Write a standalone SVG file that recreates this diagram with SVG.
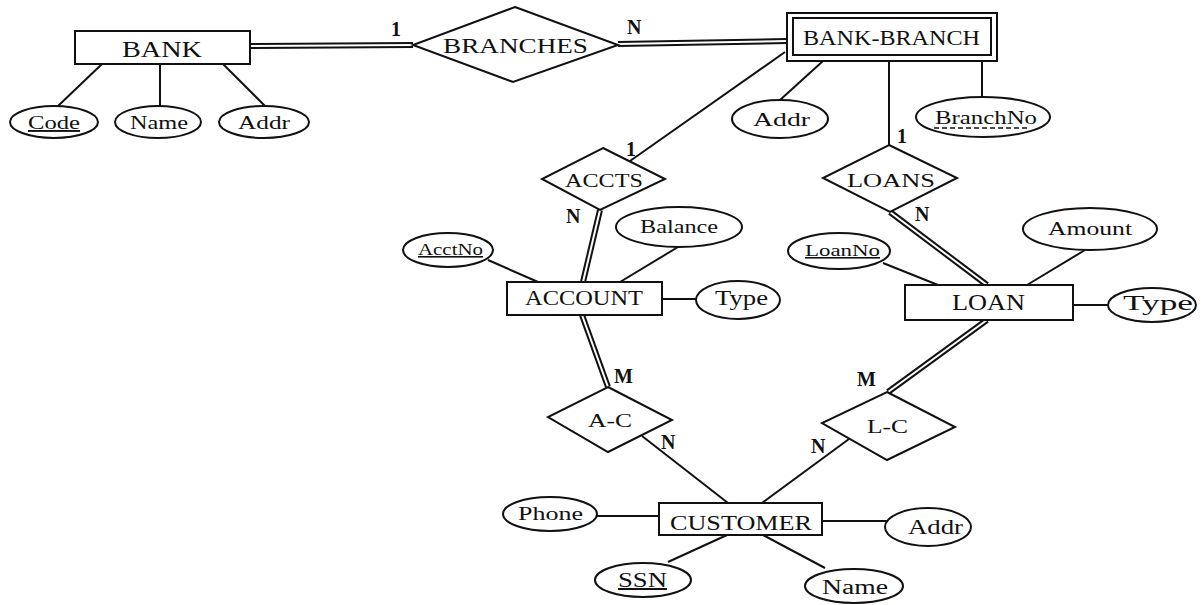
<svg xmlns="http://www.w3.org/2000/svg" width="1201" height="605" viewBox="0 0 1201 605">
<style>
text{font-family:"Liberation Serif","Times New Roman",serif;fill:#111;}
.ent{font-size:23px;}
.rel{font-size:21px;}
.att{font-size:19px;}
.card{font-size:20px;font-weight:bold;}
.shape{fill:#fff;stroke:#111;stroke-width:2;}
.ln{stroke:#111;stroke-width:2;fill:none;}
.dbo{stroke:#111;stroke-width:6;fill:none;}
.dbi{stroke:#fff;stroke-width:2;fill:none;}
</style>
<rect width="1201" height="605" fill="#fff"/>
<g id="connectors">
  <line class="dbo" x1="250" y1="46" x2="413" y2="45"/><line class="dbi" x1="250" y1="46" x2="413" y2="45"/>
  <line class="dbo" x1="618" y1="44" x2="787" y2="41"/><line class="dbi" x1="618" y1="44" x2="787" y2="41"/>
  <line class="ln" x1="102" y1="64" x2="58" y2="106"/>
  <line class="ln" x1="160" y1="64" x2="160" y2="106"/>
  <line class="ln" x1="223" y1="64" x2="265" y2="106"/>
  <line class="ln" x1="785" y1="52" x2="630" y2="161"/>
  <line class="ln" x1="823" y1="61" x2="780" y2="100"/>
  <line class="ln" x1="889" y1="61" x2="889" y2="145"/>
  <line class="ln" x1="982" y1="61" x2="982" y2="97"/>
  <line class="dbo" x1="600" y1="210" x2="583" y2="282"/><line class="dbi" x1="600" y1="210" x2="583" y2="282"/>
  <line class="ln" x1="488" y1="260" x2="538" y2="282"/>
  <line class="ln" x1="678" y1="247" x2="620" y2="282"/>
  <line class="ln" x1="662" y1="299" x2="697" y2="299"/>
  <line class="dbo" x1="582" y1="315" x2="608" y2="387"/><line class="dbi" x1="582" y1="315" x2="608" y2="387"/>
  <line class="dbo" x1="890" y1="212" x2="987" y2="285"/><line class="dbi" x1="890" y1="212" x2="987" y2="285"/>
  <line class="ln" x1="883" y1="263" x2="938" y2="285"/>
  <line class="ln" x1="1085" y1="250" x2="1027" y2="285"/>
  <line class="ln" x1="1073" y1="305" x2="1108" y2="305"/>
  <line class="dbo" x1="987" y1="320" x2="888" y2="392"/><line class="dbi" x1="987" y1="320" x2="888" y2="392"/>
  <line class="ln" x1="642" y1="436" x2="728" y2="503"/>
  <line class="ln" x1="849" y1="439" x2="762" y2="503"/>
  <line class="ln" x1="597" y1="516" x2="659" y2="516"/>
  <line class="ln" x1="822" y1="521" x2="887" y2="521"/>
  <line class="ln" x1="668" y1="562" x2="727" y2="535"/>
  <line class="ln" x1="825" y1="568" x2="763" y2="535"/>
  <text class="card" x="391" y="36">1</text>
  <text class="card" x="627" y="34">N</text>
  <text class="card" x="626" y="156">1</text>
  <text class="card" x="897" y="143">1</text>
  <text class="card" x="566" y="223">N</text>
  <text class="card" x="915" y="221">N</text>
  <text class="card" x="614" y="383">M</text>
  <text class="card" x="661" y="449">N</text>
  <text class="card" x="857" y="386">M</text>
  <text class="card" x="811" y="453">N</text>
</g>
<g id="bank">
  <rect class="shape" x="75" y="31" width="175" height="33"/>
  <text class="ent" x="122" y="57" textLength="80" lengthAdjust="spacingAndGlyphs">BANK</text>
</g>
<g id="bank-code">
  <ellipse class="shape" cx="54" cy="122" rx="44" ry="16"/>
  <text class="att" x="28" y="129" textLength="52" lengthAdjust="spacingAndGlyphs" text-decoration="underline">Code</text>
</g>
<g id="bank-name">
  <ellipse class="shape" cx="158" cy="122" rx="43" ry="16"/>
  <text class="att" x="130" y="129" textLength="58" lengthAdjust="spacingAndGlyphs">Name</text>
</g>
<g id="bank-addr">
  <ellipse class="shape" cx="264" cy="122" rx="45" ry="16"/>
  <text class="att" x="238" y="129" textLength="52" lengthAdjust="spacingAndGlyphs">Addr</text>
</g>
<g id="branches">
  <polygon class="shape" points="515,7 618,45 513,82 413,45"/>
  <text class="rel" x="443" y="53" textLength="145" lengthAdjust="spacingAndGlyphs">BRANCHES</text>
</g>
<g id="bank-branch">
  <rect class="shape" x="787" y="13" width="210" height="48"/>
  <rect class="shape" x="793" y="18" width="198" height="37"/>
  <text class="ent" x="803" y="45" textLength="177" lengthAdjust="spacingAndGlyphs" style="font-size:21px">BANK-BRANCH</text>
</g>
<g id="bb-addr">
  <ellipse class="shape" cx="780" cy="119" rx="48" ry="19"/>
  <text class="att" x="753" y="126" textLength="57" lengthAdjust="spacingAndGlyphs">Addr</text>
</g>
<g id="bb-branchno">
  <ellipse class="shape" cx="983" cy="117" rx="67" ry="20"/>
  <text class="att" x="935" y="124" textLength="102" lengthAdjust="spacingAndGlyphs">BranchNo</text>
  <line x1="934" y1="128" x2="1030" y2="128" stroke="#111" stroke-width="1.3" stroke-dasharray="5,3"/>
</g>
<g id="accts">
  <polygon class="shape" points="603,148 665,179 600,210 542,179"/>
  <text class="rel" x="565" y="187" textLength="78" lengthAdjust="spacingAndGlyphs" style="font-size:19px">ACCTS</text>
</g>
<g id="loans">
  <polygon class="shape" points="889,145 957,178 890,212 823,178"/>
  <text class="rel" x="847" y="187" textLength="88" lengthAdjust="spacingAndGlyphs" style="font-size:19px">LOANS</text>
</g>
<g id="account">
  <rect class="shape" x="507" y="282" width="155" height="33"/>
  <text class="ent" x="525" y="305" textLength="118" lengthAdjust="spacingAndGlyphs" style="font-size:21px">ACCOUNT</text>
</g>
<g id="acct-acctno">
  <ellipse class="shape" cx="448" cy="250" rx="45" ry="17"/>
  <text class="att" x="418" y="255" textLength="65" lengthAdjust="spacingAndGlyphs" text-decoration="underline" style="font-size:16px">AcctNo</text>
</g>
<g id="acct-balance">
  <ellipse class="shape" cx="679" cy="227" rx="63" ry="20"/>
  <text class="att" x="640" y="233" textLength="78" lengthAdjust="spacingAndGlyphs">Balance</text>
</g>
<g id="acct-type">
  <ellipse class="shape" cx="738" cy="300" rx="42" ry="19"/>
  <text class="att" x="715" y="305" textLength="53" lengthAdjust="spacingAndGlyphs" style="font-size:20px">Type</text>
</g>
<g id="loan">
  <rect class="shape" x="905" y="285" width="168" height="35"/>
  <text class="ent" x="952" y="310" textLength="73" lengthAdjust="spacingAndGlyphs">LOAN</text>
</g>
<g id="loan-loanno">
  <ellipse class="shape" cx="839" cy="251" rx="51" ry="18"/>
  <text class="att" x="805" y="256" textLength="75" lengthAdjust="spacingAndGlyphs" text-decoration="underline" style="font-size:16px">LoanNo</text>
</g>
<g id="loan-amount">
  <ellipse class="shape" cx="1090" cy="229" rx="67" ry="21"/>
  <text class="att" x="1048" y="235" textLength="84" lengthAdjust="spacingAndGlyphs">Amount</text>
</g>
<g id="loan-type">
  <ellipse class="shape" cx="1152" cy="305" rx="44" ry="17"/>
  <text class="att" x="1123" y="310" textLength="70" lengthAdjust="spacingAndGlyphs" style="font-size:21px">Type</text>
</g>
<g id="a-c">
  <polygon class="shape" points="608,387 672,420 608,452 548,417"/>
  <text class="rel" x="588" y="427" textLength="44" lengthAdjust="spacingAndGlyphs" style="font-size:18px">A-C</text>
</g>
<g id="l-c">
  <polygon class="shape" points="887,392 955,427 887,460 822,423"/>
  <text class="rel" x="867" y="433" textLength="41" lengthAdjust="spacingAndGlyphs" style="font-size:18px">L-C</text>
</g>
<g id="customer">
  <rect class="shape" x="659" y="503" width="163" height="32"/>
  <text class="ent" x="670" y="530" textLength="142" lengthAdjust="spacingAndGlyphs" style="font-size:22px">CUSTOMER</text>
</g>
<g id="cust-phone">
  <ellipse class="shape" cx="550" cy="514" rx="47" ry="17"/>
  <text class="att" x="518" y="520" textLength="65" lengthAdjust="spacingAndGlyphs">Phone</text>
</g>
<g id="cust-addr">
  <ellipse class="shape" cx="928" cy="527" rx="43" ry="19"/>
  <text class="att" x="908" y="534" textLength="55" lengthAdjust="spacingAndGlyphs" style="font-size:20px">Addr</text>
</g>
<g id="cust-ssn">
  <ellipse class="shape" cx="643" cy="580" rx="48" ry="17"/>
  <text class="att" x="618" y="587" textLength="49" lengthAdjust="spacingAndGlyphs" text-decoration="underline" style="font-size:20px">SSN</text>
</g>
<g id="cust-name">
  <ellipse class="shape" cx="854" cy="586" rx="49" ry="17"/>
  <text class="att" x="822" y="594" textLength="66" lengthAdjust="spacingAndGlyphs" style="font-size:20px">Name</text>
</g>
</svg>
